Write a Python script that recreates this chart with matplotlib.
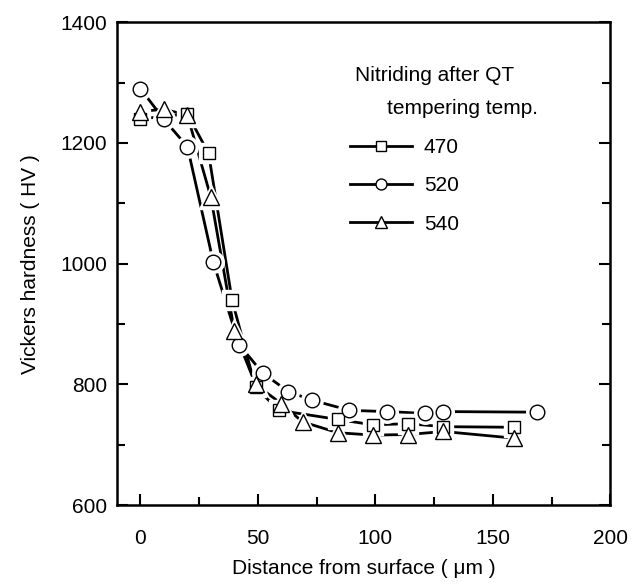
import matplotlib
matplotlib.use("Agg")
import matplotlib.pyplot as plt
from matplotlib.ticker import MultipleLocator

plt.rcParams['font.family'] = ['Liberation Sans', 'DejaVu Sans']

# tempering temp. 470
x_470 = [0, 20, 29, 39, 49, 59, 84, 99, 114, 129, 159]
hv_470 = [1240, 1248, 1183, 940, 795, 757, 742, 733, 735, 730, 729]
# tempering temp. 520
x_520 = [0, 10, 20, 31, 42, 52, 63, 73, 89, 105, 121, 129, 169]
hv_520 = [1290, 1239, 1194, 1003, 866, 819, 788, 774, 757, 755, 752, 755, 754]
# tempering temp. 540
x_540 = [0, 10, 20, 30, 40, 49, 60, 69, 84, 99, 114, 129, 159]
hv_540 = [1252, 1256, 1246, 1110, 888, 800, 768, 738, 720, 716, 717, 722, 711]

series = [
    ("470", x_470, hv_470, "s", 9),
    ("520", x_520, hv_520, "o", 10.5),
    ("540", x_540, hv_540, "^", 12),
]

fig = plt.figure(figsize=(6.39, 5.86), dpi=100)
ax = fig.add_axes([0.183, 0.138, 0.772, 0.824])

handles = []
for label, xs, ys, mk, ms in series:
    ax.plot(xs, ys, color="black", lw=2.0, zorder=2)
    # white halo so the line stops short of each marker
    ax.plot(xs, ys, ls="none", marker=mk, ms=ms + 5, mfc="white", mec="white", zorder=3)
    ax.plot(xs, ys, ls="none", marker=mk, ms=ms, mfc="white", mec="black", mew=1.0, zorder=4)
    h, = ax.plot([], [], color="black", lw=2.0, marker=mk, ms=ms * 0.75,
                 mfc="white", mec="black", mew=1.0, label=label)
    handles.append(h)

ax.set_xlim(-10, 200)
ax.set_ylim(600, 1400)
ax.xaxis.set_major_locator(MultipleLocator(50))
ax.xaxis.set_minor_locator(MultipleLocator(25))
ax.yaxis.set_major_locator(MultipleLocator(200))
ax.yaxis.set_minor_locator(MultipleLocator(100))
ax.tick_params(which="both", direction="in", top=False, right=True, labelsize=15, width=1.5)
ax.tick_params(which="major", length=8)
ax.tick_params(which="minor", length=6)
ax.tick_params(axis="x", which="major", pad=17)
ax.tick_params(axis="y", which="major", pad=7)
for s in ax.spines.values():
    s.set_linewidth(1.8)

ax.set_xlabel("Distance from surface ( \u03bcm )", fontsize=15, labelpad=8)
ax.set_ylabel("Vickers hardness ( HV )", fontsize=15, labelpad=15)

ax.text(0.482, 0.89, "Nitriding after QT", transform=ax.transAxes, fontsize=15, va="center")
ax.text(0.548, 0.822, "tempering temp.", transform=ax.transAxes, fontsize=15, va="center")

ax.legend(handles=handles, loc="upper left", bbox_to_anchor=(0.455, 0.777), frameon=False,
          fontsize=15, handlelength=3.0, handletextpad=0.55, labelspacing=0.92,
          borderaxespad=0)

fig.savefig("out.png", dpi=100)
